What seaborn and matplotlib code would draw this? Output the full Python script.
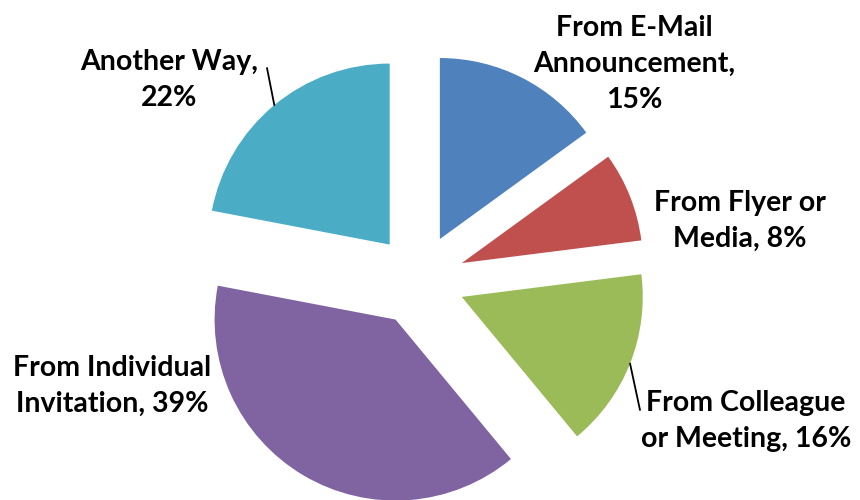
import numpy as np
import matplotlib
matplotlib.use("Agg")
import matplotlib.pyplot as plt
import seaborn as sns

# Survey: how respondents heard about the event
categories = [
    "From E-Mail Announcement",
    "From Flyer or Media",
    "From Colleague or Meeting",
    "From Individual Invitation",
    "Another Way",
]
shares = [15, 8, 16, 39, 22]
colors = ["#4F81BD", "#C0504D", "#9BBB59", "#8064A2", "#4BACC6"]
# wrapped label layouts ({v} = share)
label_formats = [
    "From E-Mail\nAnnouncement,\n{v}%",
    "From Flyer or\nMedia, {v}%",
    "From Colleague\nor Meeting, {v}%",
    "From Individual\nInvitation, {v}%",
    "Another Way,\n{v}%",
]

sns.set_theme(style="white")
plt.rcParams["font.family"] = ["Lato", "DejaVu Sans"]

W, H, DPI = 860, 500, 100
fig = plt.figure(figsize=(W / DPI, H / DPI), dpi=DPI)
ax = fig.add_axes([0, 0, 1, 1])

# pie centre and radius in pixels, used to set the view
cx, cy, r_px = 419, 280, 181
explode = 0.254

wedges, _ = ax.pie(
    shares,
    colors=colors,
    startangle=90,
    counterclock=False,
    explode=[explode] * len(shares),
    radius=1.0,
    wedgeprops=dict(linewidth=0),
)
ax.set_xlim(-cx / r_px, (W - cx) / r_px)
ax.set_ylim(-(H - cy) / r_px, cy / r_px)
ax.set_aspect("equal")
ax.axis("off")

# label block centres (pixels) and leader line ends
label_px = [(634, 64), (740, 221), (746, 421), (112, 386), (169, 80)]
leader_end_px = [None, None, (640, 410), None, (267, 68)]

def to_data(px, py):
    return (px - cx) / r_px, (cy - py) / r_px

for w, fmt, val, (lx, ly), lend in zip(wedges, label_formats, shares, label_px, leader_end_px):
    x, y = to_data(lx, ly)
    ax.text(x, y, fmt.format(v=val), ha="center", va="center", multialignment="center",
            fontsize=20.5, fontweight="bold", color="black", linespacing=1.5)
    if lend is not None:
        mid = np.deg2rad((w.theta1 + w.theta2) / 2)
        ox, oy = w.center
        sx, sy = ox + w.r * np.cos(mid), oy + w.r * np.sin(mid)
        ex, ey = to_data(*lend)
        ax.plot([sx, ex], [sy, ey], color="black", linewidth=1.3)

fig.savefig("out.png", dpi=DPI)
